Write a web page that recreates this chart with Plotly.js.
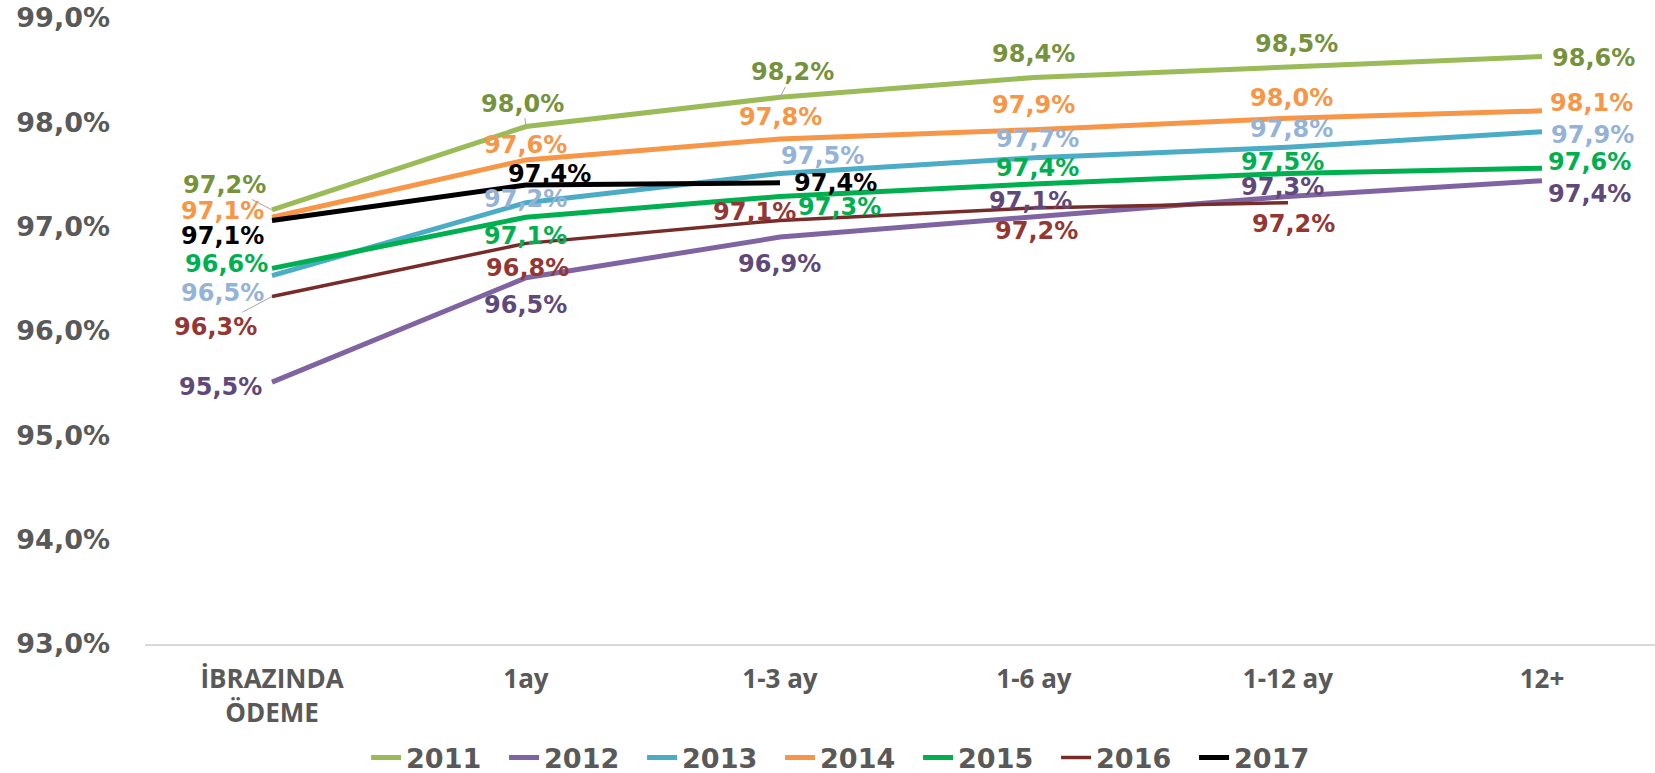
<!DOCTYPE html>
<html>
<head>
<meta charset="utf-8">
<script src="https://cdn.plot.ly/plotly-3.0.1.min.js"></script>
<style>html,body{margin:0;padding:0;background:#fff;}#chart{width:1655px;height:773px;}</style>
</head>
<body>
<div id="chart"></div>
<script>
// ---- data ----
const categories = ["İBRAZINDA<br>ÖDEME", "1ay", "1-3 ay", "1-6 ay", "1-12 ay", "12+"];
const years = ["2011", "2012", "2013", "2014", "2015", "2016", "2017"];
const v2011 = [97.16, 97.96, 98.24, 98.43, 98.53, 98.63];
const v2012 = [95.51, 96.51, 96.90, 97.09, 97.29, 97.44];
const v2013 = [96.53, 97.23, 97.51, 97.66, 97.76, 97.91];
const v2014 = [97.09, 97.64, 97.84, 97.93, 98.04, 98.11];
const v2015 = [96.60, 97.09, 97.29, 97.41, 97.51, 97.56];
const v2016 = [96.33, 96.84, 97.06, 97.18, 97.23, null];
const v2017 = [97.06, 97.40, 97.42, null, null, null];
const yTicks = [93, 94, 95, 96, 97, 98, 99];
const yTickText = ["93,0%", "94,0%", "95,0%", "96,0%", "97,0%", "98,0%", "99,0%"];

// ---- styles ----
const seriesValues = [v2011, v2012, v2013, v2014, v2015, v2016, v2017];
const lineColors = ["#9BBB59", "#8064A2", "#4BACC6", "#F79646", "#00B050", "#772C2A", "#000000"];
const labelColors = ["#76923C", "#5F497A", "#95B3D7", "#F79646", "#00B050", "#943634", "#000000"];
const lineWidths = [5, 5, 5, 5, 5, 3.5, 5];
// label offsets in pixels [ax, ay] per point (text centre relative to point)
const labelOffsets = [
  [[-48,-25],[-3,-23],[13,-25],[0,-23],[9,-23],[52,1]],
  [[-52,5],[0,27],[0,27],[-3,-16],[-5,-9],[48,13]],
  [[-50,17],[0,-4],[43,-17],[4,-19],[4,-18],[51,3]],
  [[-50,-6],[0,-15],[1,-22],[0,-25],[4,-20],[50,-8]],
  [[-46,-4],[0,19],[60,11],[4,-16],[-5,-11],[48,-6]],
  [[-57,30],[2,25],[-25,-8],[3,23],[6,21],null],
  [[-50,16],[24,-11],[56,0],null,null,null]
];
const leaders = { "0-0": true, "0-1": true, "0-2": true, "5-0": true };

const xIdx = categories.map((c, i) => i);

const traces = seriesValues.map((vals, s) => ({
  type: "scatter",
  mode: "lines",
  name: years[s],
  x: xIdx,
  y: vals,
  line: { color: lineColors[s], width: lineWidths[s] },
  connectgaps: false,
  hoverinfo: "skip"
}));

const fmt = v => v.toFixed(1).replace(".", ",") + "%";
const annotations = [];
seriesValues.forEach((vals, s) => {
  vals.forEach((v, i) => {
    if (v === null) return;
    const off = labelOffsets[s][i];
    const lead = leaders[s + "-" + i] === true;
    annotations.push({
      x: i, y: v, xref: "x", yref: "y",
      text: fmt(v),
      showarrow: true,
      arrowhead: 0,
      arrowwidth: 1,
      arrowcolor: lead ? "#A6A6A6" : "rgba(0,0,0,0)",
      ax: off[0], ay: off[1],
      axref: "pixel", ayref: "pixel",
      standoff: 0,
      borderpad: 0,
      font: { family: "DejaVu Sans", size: 24, color: labelColors[s], weight: 700 }
    });
  });
});

const layout = {
  width: 1655, height: 773,
  margin: { l: 145, r: 0, t: 18, b: 129, autoexpand: false },
  paper_bgcolor: "#ffffff",
  plot_bgcolor: "#ffffff",
  showlegend: true,
  legend: {
    orientation: "h",
    x: 0.1464, xanchor: "left",
    y: -0.182, yanchor: "middle",
    font: { family: "DejaVu Sans", size: 27, color: "#595959", weight: 700 },
    entrywidth: 93,
    entrywidthmode: "pixels",
    itemwidth: 30,
    tracegroupgap: 0
  },
  xaxis: {
    type: "linear",
    range: [-0.5, 5.445],
    tickmode: "array",
    tickvals: xIdx,
    ticktext: categories,
    showgrid: false,
    zeroline: false,
    showline: true,
    linecolor: "#D9D9D9",
    linewidth: 1.5,
    ticks: "",
    ticklabelstandoff: 11,
    tickfont: { family: "Open Sans", size: 26, color: "#595959", weight: 700 },
    fixedrange: true
  },
  yaxis: {
    range: [93, 99],
    tickmode: "array",
    tickvals: yTicks,
    ticktext: yTickText,
    showgrid: false,
    zeroline: false,
    showline: false,
    ticks: "",
    ticklabelstandoff: 34,
    tickfont: { family: "DejaVu Sans", size: 27, color: "#595959", weight: 700 },
    fixedrange: true
  },
  annotations: annotations
};

Plotly.newPlot("chart", traces, layout, { staticPlot: true, displayModeBar: false });
</script>
</body>
</html>
